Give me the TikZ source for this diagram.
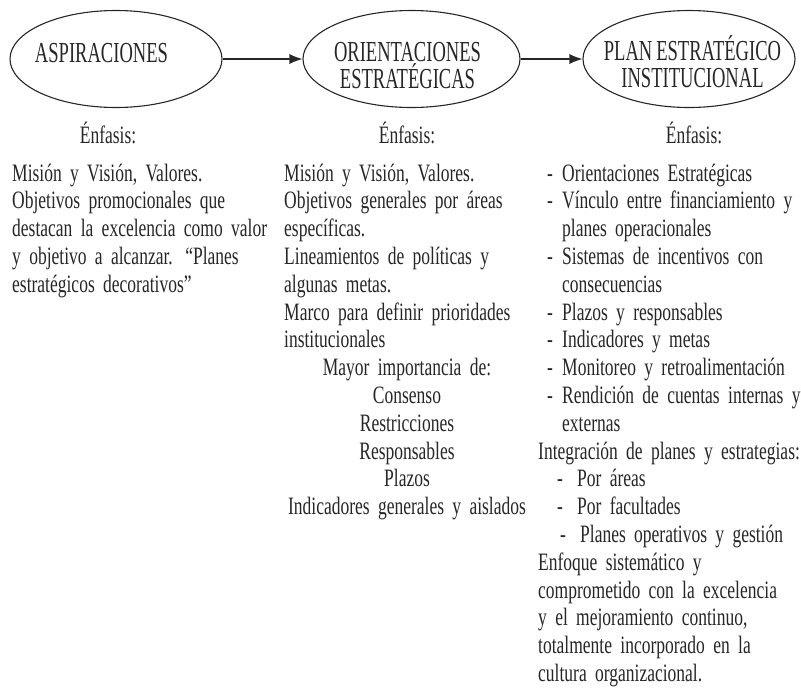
\documentclass[tikz,border=0pt]{standalone}
\usepackage{fontspec}
\setmainfont[FakeStretch=0.70,WordSpace=0.85]{Liberation Serif}
\newfontfamily\capfont[FakeStretch=0.64,WordSpace=0.85]{Liberation Serif}
\usetikzlibrary{shapes.geometric,arrows.meta}
% dash item: dash at #1, text at #2
\newcommand{\itm}[2]{\makebox[#2pt][l]{\hspace*{#1pt}-}}

\begin{document}
\begin{tikzpicture}[x=1pt,y=-1pt,color=black!85,
	ell/.style={ellipse,draw,line width=1.1pt,minimum height=97pt,inner sep=0pt},
	ttl/.style={inner sep=0pt,anchor=base,align=center,font=\capfont\fontsize{29}{26.5}\selectfont},
	txt/.style={inner sep=0pt,anchor=base west,align=left,text width=300pt,font=\fontsize{25}{27.8}\selectfont},
	ctr/.style={inner sep=0pt,anchor=base,align=center,text width=300pt,font=\fontsize{25}{27.8}\selectfont},
	arr/.style={-{Latex[length=13pt,width=10pt]},line width=1.1pt}
	]
	\useasboundingbox (0,0) rectangle (801,689);
	
	\def\ybase{181}
	\node[ell,minimum width=212pt] (asp) at (116,59) {};
	\node[ttl] (asplbl) at (101.5,62) {ASPIRACIONES};
	\node[ell,minimum width=217pt] (ori) at (411.5,59) {};
	\node[ttl] (orilbl) at (407.5,88) {ORIENTACIONES\\ESTRATÉGICAS};
	\node[ell,minimum width=212pt] (pei) at (689,59) {};
	\node[ttl] (peilbl) at (692.5,87) {PLAN ESTRATÉGICO\\INSTITUCIONAL};
	
	\draw[arr] (asp) -- (ori);
	\draw[arr] (ori) -- (pei);
	
	\node[ctr] (enf1) at (108,143) {Énfasis:};
	\node[ctr] (enf2) at (407,143) {Énfasis:};
	\node[ctr] (enf3) at (694,143) {Énfasis:};
	
	% aspiraciones
	\node[txt] (txt1) at (12,\ybase) {Misión y Visión, Valores.\\
		Objetivos promocionales que\\
		destacan la excelencia como valor\\
		y objetivo a alcanzar. “Planes\\
		estratégicos decorativos”};
	
	% orientaciones
	\node[txt] (txt2) at (284,\ybase) {Misión y Visión, Valores.\\
		Objetivos generales por áreas\\
		específicas.\\
		Lineamientos de políticas y\\
		algunas metas.\\
		Marco para definir prioridades\\
		institucionales};
	\node[ctr] (txt2c) at (407,\ybase+7*27.8) {Mayor importancia de:\\
		Consenso\\
		Restricciones\\
		Responsables\\
		Plazos\\
		Indicadores generales y aislados};
	
	% plan estrategico
	\node[txt] (txt3) at (538,\ybase) {\itm{9}{24}Orientaciones Estratégicas\\
		\itm{9}{24}Vínculo entre financiamiento y\\
		\hspace*{24pt}planes operacionales\\
		\itm{9}{24}Sistemas de incentivos con\\
		\hspace*{24pt}consecuencias\\
		\itm{9}{24}Plazos y responsables\\
		\itm{9}{24}Indicadores y metas\\
		\itm{9}{24}Monitoreo y retroalimentación\\
		\itm{9}{24}Rendición de cuentas internas y\\
		\hspace*{24pt}externas\\
		Integración de planes y estrategias:\\
		\itm{19}{39}Por áreas\\
		\itm{19}{39}Por facultades\\
		\itm{22}{42}Planes operativos y gestión\\
		Enfoque sistemático y\\
		comprometido con la excelencia\\
		y el mejoramiento continuo,\\
		totalmente incorporado en la\\
		cultura organizacional.};
\end{tikzpicture}
\end{document}
